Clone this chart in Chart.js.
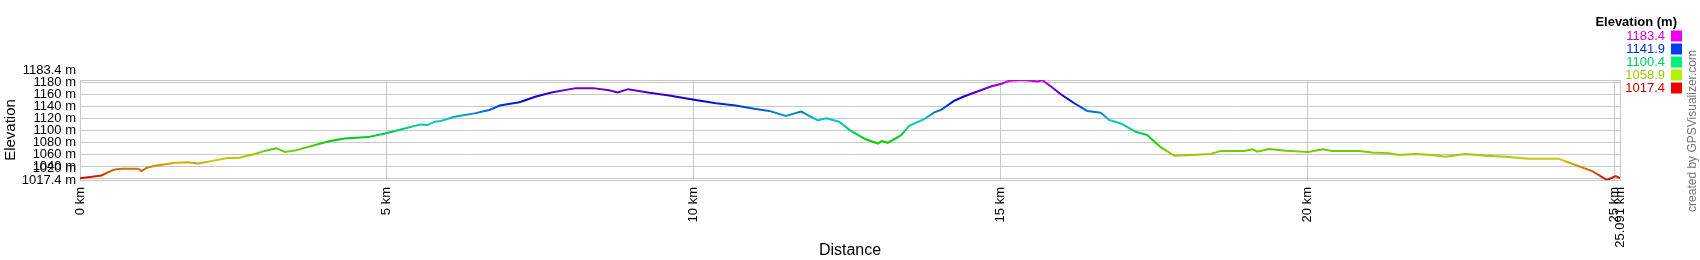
<!DOCTYPE html>
<html>
<head>
<meta charset="utf-8">
<title>Elevation profile</title>
<style>
  body { margin: 0; background: #fff; }
  canvas { display: block; }
</style>
</head>
<body>
<canvas id="profile" width="1700" height="260"></canvas>
<script src="https://cdn.jsdelivr.net/npm/chart.js@4.4.1/dist/chart.umd.min.js"></script>
<script>
// track profile
const distanceKm = [
  0, 0.19, 0.35, 0.46, 0.57, 0.68, 0.95, 1.0, 1.09, 1.22,
  1.55, 1.76, 1.93, 2.2, 2.41, 2.58, 2.85, 3.01, 3.2, 3.34,
  3.5, 3.72, 4.04, 4.31, 4.69, 4.97, 5.29, 5.55, 5.66, 5.78,
  5.88, 6.1, 6.43, 6.67, 6.84, 7.16, 7.43, 7.7, 8.08, 8.36,
  8.62, 8.76, 8.93, 9.28, 9.6, 9.98, 10.36, 10.68, 11.01, 11.23,
  11.5, 11.75, 12.02, 12.16, 12.37, 12.54, 12.8, 13.0, 13.06, 13.16,
  13.38, 13.51, 13.76, 13.92, 14.03, 14.24, 14.4, 14.62, 14.84, 15.0,
  15.14, 15.38, 15.6, 15.68, 15.82, 15.98, 16.2, 16.41, 16.63, 16.77,
  16.96, 17.2, 17.39, 17.6, 17.83, 18.2, 18.42, 18.59, 18.97, 19.1,
  19.18, 19.37, 19.53, 19.64, 20.02, 20.24, 20.4, 20.84, 21.05, 21.32,
  21.49, 21.76, 22.03, 22.25, 22.57, 22.9, 23.22, 23.6, 24.09, 24.31,
  24.64, 24.88, 25.02, 25.091
];
const elevationM = [
  1020.5, 1022.7, 1025, 1030.6, 1035, 1036, 1036, 1032.2, 1037.8, 1041,
  1046, 1047, 1045, 1050, 1054, 1054, 1060.7, 1065.7, 1070.2, 1064,
  1066.2, 1072.4, 1081.2, 1086.3, 1088.6, 1094.6, 1103, 1109.7, 1108.6, 1114.2,
  1115.3, 1122.5, 1128, 1133.7, 1141, 1146.4, 1156, 1163.2, 1169.9, 1169.9,
  1166.5, 1162.7, 1168.2, 1162.2, 1157.6, 1151, 1144.8, 1141, 1135.4, 1132.1,
  1123.7, 1130.9, 1116.3, 1119.7, 1114.2, 1100.3, 1085, 1077.9, 1081.9, 1079.1,
  1091.9, 1107.5, 1118.7, 1129.7, 1133.7, 1148.8, 1156, 1164.3, 1172.7, 1176.6,
  1182.2, 1183.4, 1181, 1183, 1172.7, 1159.8, 1144.8, 1132, 1129.2, 1117,
  1111.3, 1097.4, 1091.9, 1072.4, 1057.5, 1059.5, 1060.7, 1065.7, 1065.7, 1068.5,
  1064.5, 1069, 1067.3, 1066, 1064, 1068.5, 1065.7, 1065.7, 1063, 1061.8,
  1059, 1060.7, 1059, 1056.1, 1060.7, 1057.8, 1056.1, 1052.8, 1052.8, 1044.4,
  1032.2, 1017.4, 1023.9, 1020.5
];
const yTicks = [1017.4, 1020, 1040, 1060, 1080, 1100, 1120, 1140, 1160, 1180, 1183.4];
const xTicks = [0, 5, 10, 15, 20, 25, 25.091];
const legendValues = [1183.4, 1141.9, 1100.4, 1058.9, 1017.4];
const yMin = 1017.4, yMax = 1183.4;

const FONT = "'Liberation Sans', Arial, sans-serif";
const GRID = '#c8c8c8';

function hueFor(v) {
  return 300 * (v - yMin) / (yMax - yMin);
}

// red at the lowest point, magenta at the highest
function elevationGradient(context) {
  const chart = context.chart;
  if (!chart.chartArea) return '#c00';
  const y = chart.scales.y;
  const g = chart.ctx.createLinearGradient(0, y.getPixelForValue(yMin), 0, y.getPixelForValue(yMax));
  for (let h = 0; h <= 300; h += 15) {
    g.addColorStop(h / 300, 'hsl(' + h + ',100%,40%)');
  }
  return g;
}

// colour key + credit line on the right side
const sideNotes = {
  id: 'sideNotes',
  afterDraw(chart) {
    const ctx = chart.ctx;
    const right = chart.width - 18;
    ctx.save();
    ctx.textBaseline = 'middle';
    ctx.textAlign = 'right';
    ctx.fillStyle = '#000';
    ctx.font = 'bold 13px ' + FONT;
    ctx.fillText('Elevation (m)', right - 5, 22);
    ctx.font = '13px ' + FONT;
    legendValues.forEach((v, i) => {
      const h = hueFor(v);
      const cy = 36 + i * 13;
      ctx.fillStyle = 'hsl(' + h + ',100%,40%)';
      ctx.fillText(v.toFixed(1), right - 17, cy);
      ctx.fillStyle = 'hsl(' + h + ',100%,47%)';
      ctx.fillRect(right - 11, cy - 5.5, 11, 11);
    });
    ctx.translate(chart.width - 7, 131);
    ctx.rotate(-Math.PI / 2);
    ctx.textAlign = 'center';
    ctx.fillStyle = '#777';
    ctx.font = '12px ' + FONT;
    ctx.fillText('created by GPSVisualizer.com', 0, 0);
    ctx.restore();
  }
};

new Chart(document.getElementById('profile'), {
  type: 'line',
  data: {
    datasets: [{
      label: 'Elevation',
      data: distanceKm.map((d, i) => ({x: d, y: elevationM[i]})),
      borderColor: elevationGradient,
      borderWidth: 2,
      pointRadius: 0,
      tension: 0,
      fill: false
    }]
  },
  options: {
    responsive: false,
    animation: false,
    layout: { padding: { left: 0, top: 80, right: 80, bottom: 0 } },
    plugins: {
      legend: { display: false },
      tooltip: { enabled: false }
    },
    scales: {
      x: {
        type: 'linear',
        min: 0,
        max: 25.091,
        afterBuildTicks: s => { s.ticks = xTicks.map(v => ({value: v})); },
        afterFit: s => { s.height = 80; },
        ticks: {
          autoSkip: false,
          minRotation: 90,
          maxRotation: 90,
          padding: 7,
          color: '#000',
          font: { size: 13, family: FONT },
          callback: v => v + ' km'
        },
        grid: { color: GRID, drawTicks: false },
        border: { color: GRID },
        title: {
          display: true,
          text: 'Distance',
          color: '#000',
          font: { size: 16, family: FONT },
          padding: { top: 0, bottom: 0 }
        }
      },
      y: {
        type: 'linear',
        min: yMin,
        max: yMax,
        afterBuildTicks: s => { s.ticks = yTicks.map(v => ({value: v})); },
        afterFit: s => { s.width = 80; },
        ticks: {
          autoSkip: false,
          padding: 4,
          color: '#000',
          font: { size: 13, family: FONT, lineHeight: '20px' },
          // the top label and the 1020 label are pushed up like in the original
          callback: v => (v === 1183.4 || v === 1020) ? [v + ' m', ''] : v + ' m'
        },
        grid: { color: GRID, drawTicks: false },
        border: { color: GRID },
        title: {
          display: true,
          text: 'Elevation',
          color: '#000',
          font: { size: 15, family: FONT },
          padding: { top: 2, bottom: 0 }
        }
      }
    }
  },
  plugins: [sideNotes]
});
</script>
</body>
</html>
